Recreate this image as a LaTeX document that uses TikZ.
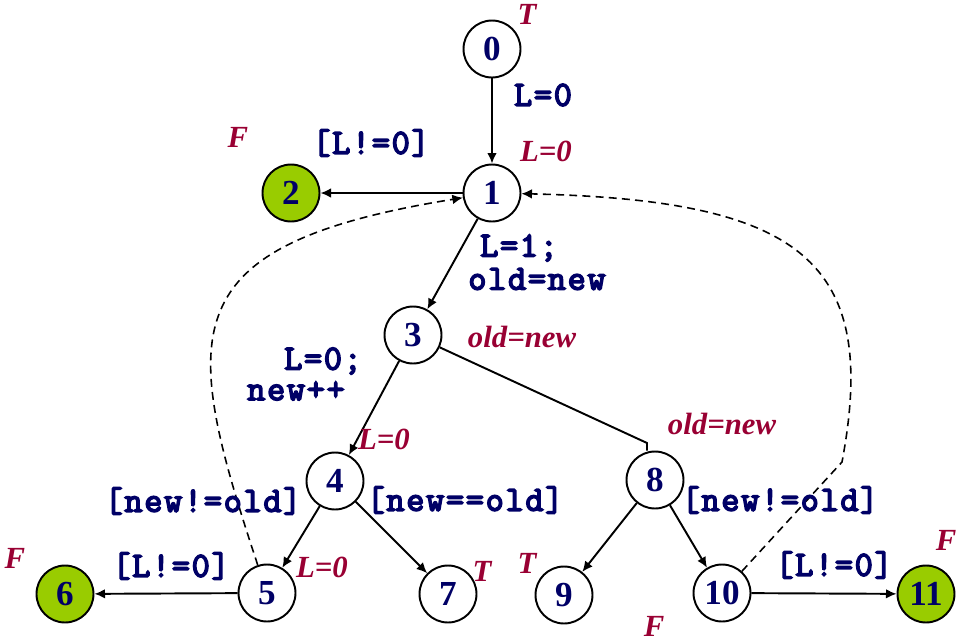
\documentclass[tikz,border=0pt]{standalone}
\usepackage{fontspec}
\setmainfont{Liberation Serif}
\newfontfamily\codefont[FakeBold=4.5,LetterSpace=5]{Latin Modern Mono}
\usetikzlibrary{arrows.meta}
\definecolor{navytxt}{RGB}{0,0,102}
\definecolor{crim}{RGB}{153,0,51}
\definecolor{limefill}{RGB}{153,204,0}
\begin{document}
\begin{tikzpicture}[x=0.02cm,y=-0.02cm,
 state/.style={circle,draw,line width=1.1pt,minimum size=1.14cm,inner sep=0pt,font=\fontsize{20}{20}\selectfont\bfseries,text=navytxt,fill=white},
 final/.style={state,fill=limefill},
 code/.style={font=\fontsize{20}{21}\selectfont\codefont,text=navytxt,inner sep=0pt},
 cond/.style={font=\fontsize{17.5}{18}\selectfont\bfseries\itshape,text=crim,inner sep=0pt},
 arr/.style={-{Latex[length=6pt,width=5.5pt]},line width=1.1pt},
 back/.style={arr,dash pattern=on 4.5pt off 3pt,line width=0.9pt}
]
\useasboundingbox (0,0) rectangle (958,640);

% states
\node[state] (n0) at (492,49) {0};
\node[state] (n1) at (492,193) {1};
\node[final] (n2) at (291,193) {2};
\node[state] (n3) at (413,335) {3};
\node[state] (n4) at (335,481) {4};
\node[state] (n5) at (267,593) {5};
\node[final] (n6) at (65,594) {6};
\node[state] (n7) at (448,594) {7};
\node[state] (n8) at (655,480) {8};
\node[state] (n9) at (564,595) {9};
\node[state] (n10) at (722,593) {10};
\node[final] (n11) at (926,594) {11};

% solid transitions
\draw[arr] (n0) -- (n1);
\draw[arr] (n1) -- (n2);
\draw[arr] (n1) -- (n3);
\draw[arr] (n3) -- (n4);
\coordinate (c38) at (647,443);
\draw[line width=1.1pt] (n3) -- (c38) -- (c38 |- n8.north);
\draw[arr] (n4) -- (n5);
\draw[arr] (n4) -- (n7);
\draw[arr] (n8) -- (n9);
\draw[arr] (n8) -- (n10);
\draw[arr] (n5) -- (n6);
\draw[arr] (n10) -- (n11);

% dashed back edges
\draw[back] (n5) .. controls (180,330) and (170,245) .. (n1);
\coordinate (k10) at (842,462);
\draw[back] (n10) -- (k10) .. controls (880,260) and (800,200) .. (n1);

% code labels
\node[code] (l01) at (543,95) {L=0};
\node[code] (l12) at (371,143) {[L!=0]};
\node[code] (l13a) at (519,248) {L=1;};
\node[code] (l13b) at (537,279) {old=new};
\node[code] (l34a) at (323,361) {L=0;};
\node[code] (l34b) at (296,391) {new++};
\node[code] (l45) at (203,501) {[new!=old]};
\node[code] (l47) at (465,500) {[new==old]};
\node[code] (l810) at (780,500) {[new!=old]};
\node[code] (l56) at (171,566) {[L!=0]};
\node[code] (l1011) at (834,565) {[L!=0]};

% condition labels
\node[cond] (t0) at (527,14) {T};
\node[cond] (f2) at (238,137) {F};
\node[cond] (c1) at (546,151) {L=0};
\node[cond] (c3) at (522,337) {old=new};
\node[cond] (c4) at (384,439) {L=0};
\node[cond] (c8) at (722,424) {old=new};
\node[cond] (f6) at (15,558) {F};
\node[cond] (c5) at (322,567) {L=0};
\node[cond] (t7) at (482,571) {T};
\node[cond] (t9) at (527,563) {T};
\node[cond] (f10) at (654,626) {F};
\node[cond] (f11) at (946,540) {F};
\end{tikzpicture}
\end{document}
